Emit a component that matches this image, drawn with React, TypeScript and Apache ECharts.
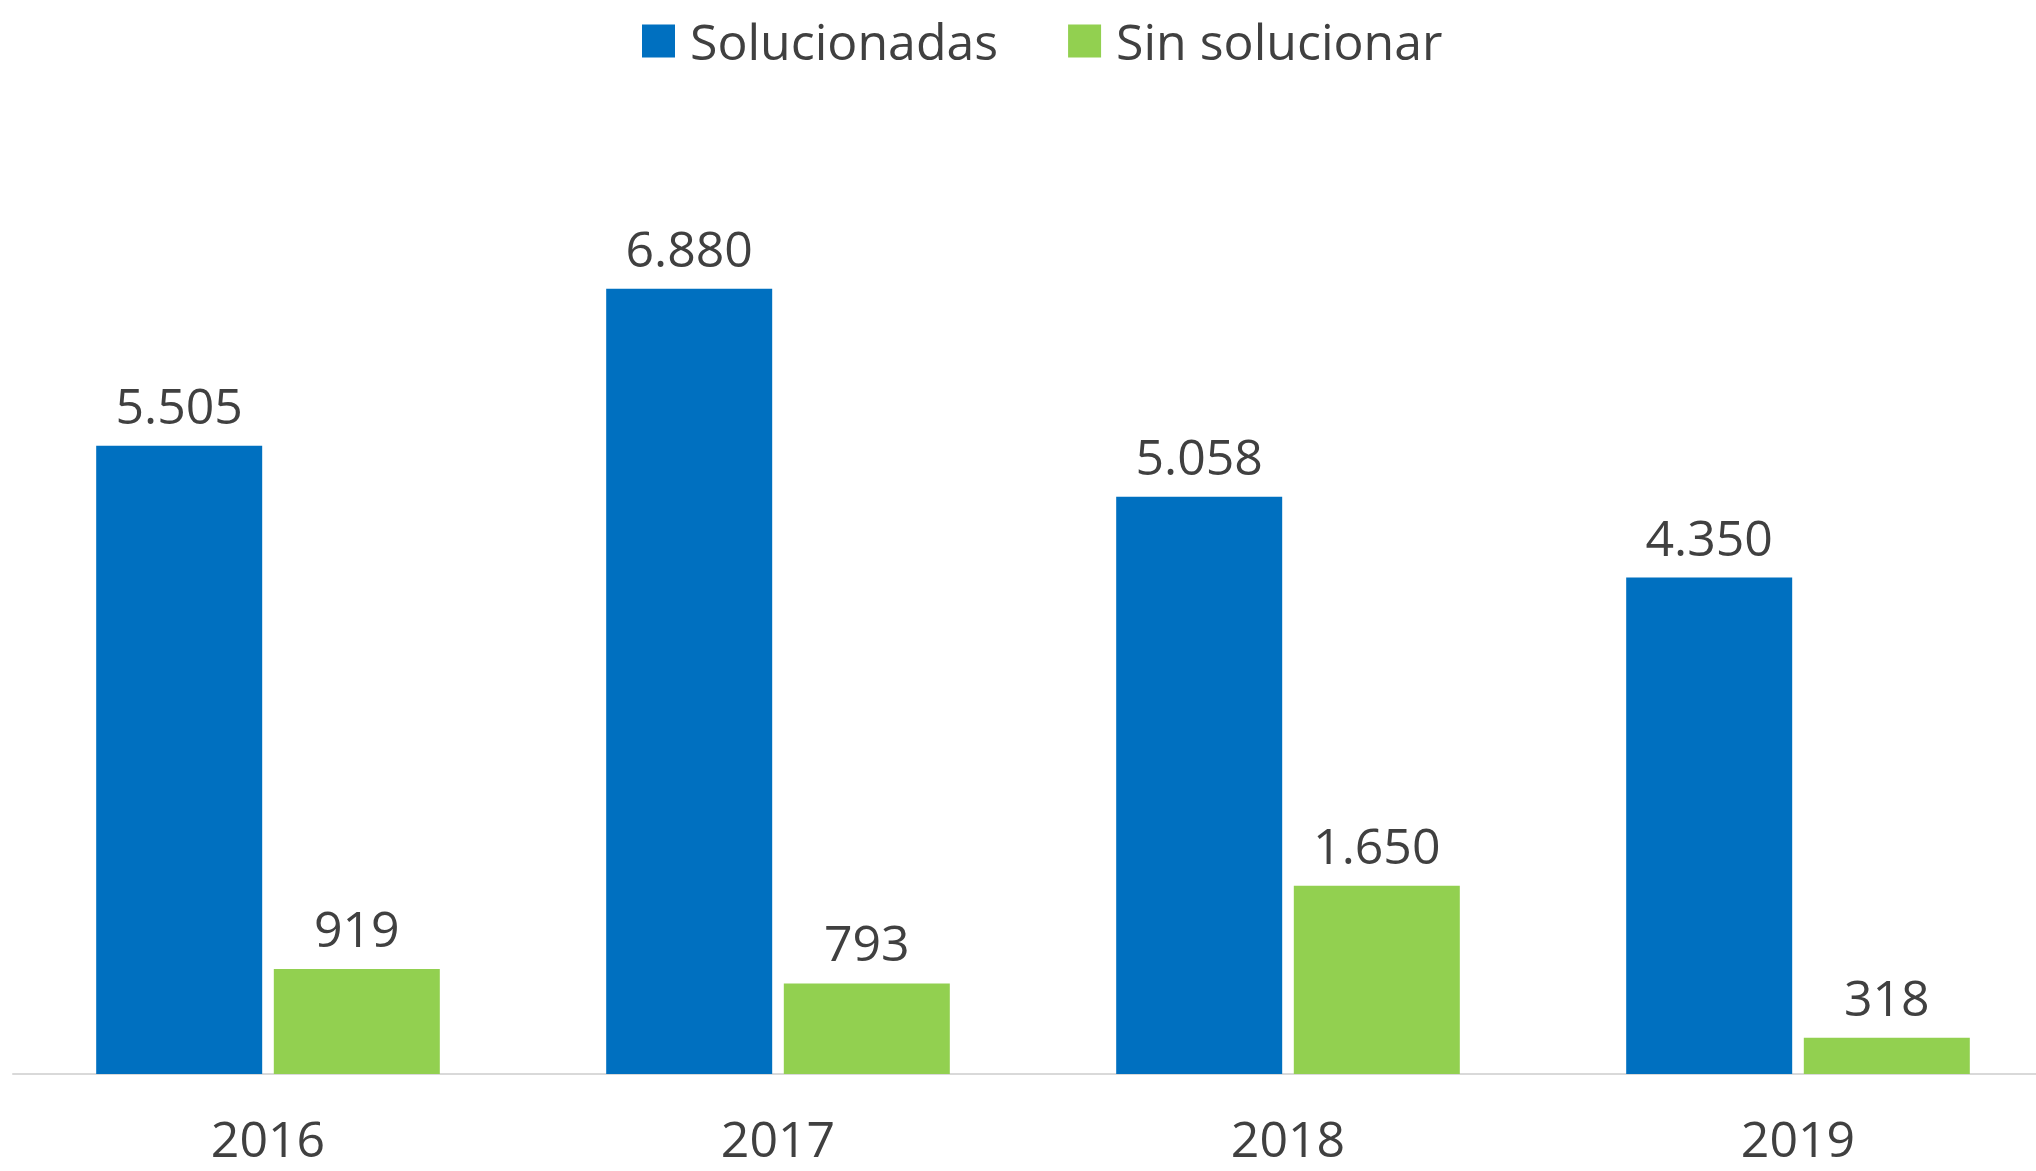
import React, { useEffect, useRef } from "react";
import * as echarts from "echarts";

const categories = ["2016", "2017", "2018", "2019"];
const solucionadas = [5505, 6880, 5058, 4350];
const sinSolucionar = [919, 793, 1650, 318];
const seriesNames = ["Solucionadas", "Sin solucionar"];

const fmt = (v: number) => String(v).replace(/\B(?=(\d{3})+(?!\d))/g, ".");

export default function App() {
  const ref = useRef<HTMLDivElement>(null);
  useEffect(() => {
    const chart = echarts.init(ref.current!, null, { renderer: "svg" });
    const font = "'Open Sans', sans-serif";
    const textColor = "#404040";
    const label = {
      show: true,
      position: "top" as const,
      distance: 16,
      fontSize: 50,
      fontFamily: font,
      color: textColor,
      formatter: (p: any) => fmt(p.value),
    };
    chart.setOption({
      animation: false,
      backgroundColor: "#ffffff",
      legend: {
        data: seriesNames,
        left: 637,
        top: 11,
        itemWidth: 33,
        itemHeight: 33,
        itemGap: 70,
        icon: "rect",
        textStyle: { fontSize: 50, fontFamily: font, color: textColor, padding: [0, 0, 0, 10] },
      },
      grid: { left: 13, right: 7, top: 161, bottom: 97, containLabel: false },
      xAxis: {
        type: "category",
        data: categories,
        axisLine: { show: true, lineStyle: { color: "#d9d9d9", width: 2 } },
        axisTick: { show: false },
        axisLabel: { fontSize: 50, lineHeight: 40, fontFamily: font, color: textColor, margin: 44 },
      },
      yAxis: {
        type: "value",
        min: 0,
        max: 8000,
        show: false,
        splitLine: { show: false },
      },
      series: [
        {
          name: seriesNames[0],
          type: "bar",
          data: solucionadas,
          barWidth: 166,
          barGap: "7%",
          itemStyle: { color: "#0070C0" },
          label,
        },
        {
          name: seriesNames[1],
          type: "bar",
          data: sinSolucionar,
          barWidth: 166,
          itemStyle: { color: "#92D050" },
          label,
        },
      ],
    });
    return () => chart.dispose();
  }, []);
  return (
    <div style={{ position: "absolute", left: 0, top: 0, width: 2036, height: 1171, overflow: "hidden" }}>
      <div ref={ref} style={{ width: 2060, height: 1171 }} />
    </div>
  );
}
